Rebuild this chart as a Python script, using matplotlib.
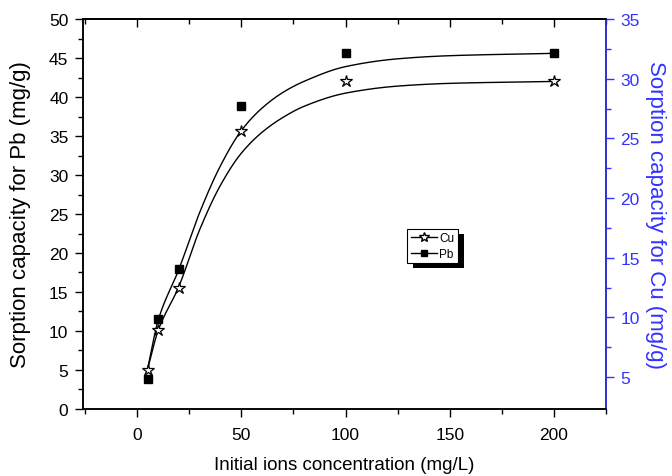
import numpy as np
import matplotlib
matplotlib.use("Agg")
import matplotlib.pyplot as plt
from matplotlib.lines import Line2D
from matplotlib.patches import Rectangle
from matplotlib.transforms import IdentityTransform

plt.rcParams['font.family'] = ['Liberation Sans', 'DejaVu Sans']

# ---- data ----
conc = [5, 10, 20, 50, 100, 200]
pb_q = [3.9, 11.5, 17.9, 38.8, 45.6, 45.6]          # left axis (mg/g)
cu_q = [5.6, 8.9, 12.5, 25.6, 29.8, 29.8]           # right axis (mg/g)

# fitted curves
pb_fit_x = [5, 10, 20, 30, 40, 50, 60, 70, 80, 100, 125, 150, 200]
pb_fit_y = [5.1, 11.3, 17.9, 25.2, 31.2, 35.7, 38.6, 40.6, 42.0, 43.9, 44.9, 45.3, 45.6]
cu_fit_x = [5, 10, 20, 30, 40, 50, 60, 70, 80, 100, 125, 150, 200]
cu_fit_y = [5.65, 8.86, 12.58, 17.35, 21.08, 23.76, 25.52, 26.76, 27.68, 28.79, 29.38, 29.61, 29.77]

x_ticks = [0, 50, 100, 150, 200]
left_ticks = [0, 5, 10, 15, 20, 25, 30, 35, 40, 45, 50]
right_ticks = [5, 10, 15, 20, 25, 30, 35]


def pchip(x, y, n=400):
    x = np.asarray(x, float); y = np.asarray(y, float)
    h = np.diff(x); d = np.diff(y) / h
    m = np.zeros_like(y)
    for k in range(1, len(x) - 1):
        if d[k - 1] * d[k] > 0:
            w1 = 2 * h[k] + h[k - 1]; w2 = h[k] + 2 * h[k - 1]
            m[k] = (w1 + w2) / (w1 / d[k - 1] + w2 / d[k])
    m[0] = d[0]; m[-1] = d[-1]
    xs = np.linspace(x[0], x[-1], n)
    idx = np.clip(np.searchsorted(x, xs) - 1, 0, len(h) - 1)
    t = (xs - x[idx]) / h[idx]
    h00 = 2 * t**3 - 3 * t**2 + 1; h10 = t**3 - 2 * t**2 + t
    h01 = -2 * t**3 + 3 * t**2; h11 = t**3 - t**2
    ys = h00 * y[idx] + h10 * h[idx] * m[idx] + h01 * y[idx + 1] + h11 * h[idx] * m[idx + 1]
    return xs, ys


blue = '#3333ff'
fig = plt.figure(figsize=(6.72, 4.77), dpi=100)
ax = fig.add_axes([0.1235, 0.1405, 0.7783, 0.8175])
ax2 = ax.twinx()

# Pb on left
xs, ys = pchip(pb_fit_x, pb_fit_y)
ax.plot(xs, ys, color='k', lw=1.0)
ax.plot(conc, pb_q, ls='none', marker='s', ms=6, color='k')
# Cu on right
xs, ys = pchip(cu_fit_x, cu_fit_y)
ax2.plot(xs, ys, color='k', lw=1.0)
ax2.plot(conc, cu_q, ls='none', marker='*', ms=9, mfc='white', mec='k', mew=0.9)

ax.set_xlim(-26, 225)
ax.set_ylim(0, 50)
ax2.set_ylim(2.32, 35)

ax.set_xticks(x_ticks)
ax.set_xticks([-25, 25, 75, 125, 175, 225], minor=True)
ax.set_yticks(left_ticks)
ax.set_yticks(np.arange(2.5, 50, 5), minor=True)
ax2.set_yticks(right_ticks)
ax2.set_yticks([7.5, 12.5, 17.5, 22.5, 27.5, 32.5], minor=True)

for a in (ax, ax2):
    for s in a.spines.values():
        s.set_linewidth(1.1)
ax.tick_params(axis='both', which='major', direction='out', length=6, width=1.0, labelsize=12.5)
ax.tick_params(axis='both', which='minor', direction='out', length=3.5, width=1.0)
ax.tick_params(axis='x', which='major', pad=7)
ax.tick_params(axis='y', which='major', pad=4.5)
ax2.tick_params(axis='y', which='major', direction='out', length=6, width=1.0,
                labelsize=12.5, colors=blue, pad=4.5)
ax2.tick_params(axis='y', which='minor', direction='out', length=3.5, width=1.0, colors=blue)
ax2.spines['right'].set_color(blue)

sec = ax.secondary_xaxis('top')
sec.set_xticks(x_ticks)
sec.set_xticks([-25, 25, 75, 125, 175, 225], minor=True)
sec.tick_params(which='major', direction='in', length=6, width=1.0, labeltop=False)
sec.tick_params(which='minor', direction='in', length=3.5, width=1.0)
sec.spines['top'].set_linewidth(1.1)

ax.set_xlabel('Initial ions concentration (mg/L)', fontsize=13.5)
ax.xaxis.set_label_coords(0.5, -0.12)
ax.set_ylabel('Sorption capacity for Pb (mg/g)', fontsize=16)
ax.yaxis.set_label_coords(-0.1, 0.5)
ax2.set_ylabel('Sorption capacity for Cu (mg/g)', fontsize=16, color=blue,
               rotation=270, va='bottom')
ax2.yaxis.set_label_coords(1.075, 0.5)

handles = [Line2D([], [], color='k', lw=1, marker='*', ms=7, mfc='white', mec='k'),
           Line2D([], [], color='k', lw=1, marker='s', ms=5)]
leg = ax2.legend(handles, ['Cu', 'Pb'], loc='upper left', bbox_to_anchor=(0.62, 0.462),
                 fontsize=8.5, frameon=True, fancybox=False, edgecolor='k',
                 framealpha=1, handlelength=2.2, handletextpad=0.2,
                 labelspacing=0.3, borderpad=0.3, borderaxespad=0)
leg.get_frame().set_linewidth(0.8)
leg.set_zorder(10)

fig.canvas.draw()
bb = leg.get_window_extent()
shadow = Rectangle((bb.x0 + 6, bb.y0 - 5), bb.width, bb.height, transform=IdentityTransform(),
                   facecolor='k', edgecolor='none', zorder=9)
ax2.add_artist(shadow)

fig.savefig('out.png', dpi=100)
